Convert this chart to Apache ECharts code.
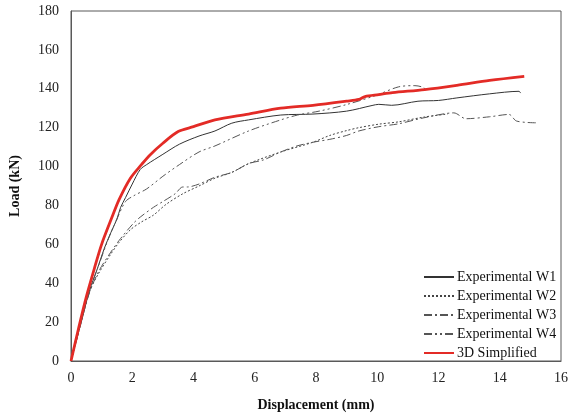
<!DOCTYPE html>
<html>
<head>
<meta charset="utf-8">
<script src="https://cdn.jsdelivr.net/npm/echarts@6/dist/echarts.min.js"></script>
<style>html,body{margin:0;padding:0;background:#fff;}#c{width:571px;height:417px;}</style>
</head>
<body>
<div id="c"></div>
<script>
// Tick labels
const xTicks = [0, 2, 4, 6, 8, 10, 12, 14, 16];
const yTicks = [0, 20, 40, 60, 80, 100, 120, 140, 160, 180];

// Series names
const seriesNames = ['Experimental W1', 'Experimental W2', 'Experimental W3', 'Experimental W4', '3D Simplified'];

// [displacement (mm), load (kN)]
const expW1 = [[0,0],[0.3,18],[0.6,36],[0.85,47],[1.09,58],[1.3,66],[1.5,73],[1.62,79],[1.78,84],[2.0,91],[2.26,98.5],[2.47,101],[3.0,106.3],[3.54,111.5],[4.18,115.7],[4.7,118.3],[5.25,122.3],[5.8,124],[6.85,126.5],[7.9,127],[9.0,128.5],[9.83,131.4],[10.05,132],[10.47,131.5],[11.33,133.6],[12.0,134],[12.6,135.3],[13.67,137.4],[14.63,138.7],[14.68,137.8]];
const expW2 = [[0,0],[0.3,18],[0.61,35.8],[0.9,45],[1.3,55],[1.57,61],[1.94,67.5],[2.3,71.5],[2.69,75],[3.1,80.5],[3.65,86],[4.18,90],[4.7,94],[5.25,97],[5.8,101.5],[6.85,107.5],[7.9,112.5],[8.45,116],[9.0,118.5],[9.4,120],[10.05,121.8],[10.7,123],[11.54,125.5],[12.3,127]];
const expW3 = [[0,0],[0.3,18],[0.6,35],[0.9,46],[1.3,56],[1.62,63],[2.05,71],[2.26,74],[2.69,79],[3.0,82],[3.4,86],[3.65,89.5],[3.8,89.5],[4.18,91],[4.7,94.5],[5.25,97],[5.8,101.5],[6.3,103.5],[6.85,107.5],[7.38,110.6],[7.9,112.5],[8.45,114],[9.0,116],[9.4,118.3],[10.05,120.5],[10.7,122],[11.5,125],[12.5,127.6],[12.9,124.6],[13.67,125.6],[14.3,126.8],[14.55,123.4],[15.2,122.5]];
const expW4 = [[0,0],[0.3,18],[0.6,36],[0.9,49],[1.2,62],[1.5,73],[1.78,82],[2.05,85],[2.47,88.5],[3.0,95],[3.54,101],[4.18,107.5],[4.7,110.6],[5.8,118.3],[6.85,124],[7.4,126.5],[8.1,128.5],[9.0,131.9],[9.94,136.5],[10.7,141],[11.23,141.6],[11.45,141],[11.6,139.6]];
const sim3D = [[0,0],[0.25,17],[0.5,33],[0.77,48],[1.0,60],[1.34,74],[1.57,83],[1.94,94],[2.3,101],[2.58,106],[3.0,112],[3.5,118],[4.0,120.5],[4.7,124],[5.8,127],[6.85,130],[7.9,131.5],[9.0,133.6],[9.4,134.5],[9.6,136],[10.05,137],[10.5,138],[11.55,139.6],[12.6,141.8],[13.67,144.3],[14.8,146.4]];

const serif = 'Liberation Serif';
const chart = echarts.init(document.getElementById('c'), null, {renderer: 'canvas'});

function lineSeries(name, data, color, width, type) {
  return {
    name: name, type: 'line', data: data, showSymbol: false, symbol: 'none',
    smooth: 0.3, animation: false,
    lineStyle: {color: color, width: width, type: type},
    itemStyle: {color: color}
  };
}

chart.setOption({
  animation: false,
  grid: {left: 66, right: 5, top: 11, bottom: 54, show: true, borderColor: '#595959', borderWidth: 1},
  xAxis: {
    type: 'value', min: xTicks[0], max: xTicks[xTicks.length - 1], interval: 2,
    axisLine: {show: true, lineStyle: {color: '#595959', width: 1}},
    axisTick: {show: false}, splitLine: {show: false},
    axisLabel: {fontFamily: serif, fontSize: 14, color: '#222', margin: 10},
    name: 'Displacement (mm)', nameLocation: 'middle', nameGap: 37,
    nameTextStyle: {fontFamily: serif, fontSize: 14, fontWeight: 'bold', color: '#111'}
  },
  yAxis: {
    type: 'value', min: yTicks[0], max: yTicks[yTicks.length - 1], interval: 20,
    axisLine: {show: true, lineStyle: {color: '#595959', width: 1}},
    axisTick: {show: false}, splitLine: {show: false},
    axisLabel: {fontFamily: serif, fontSize: 14, color: '#222', margin: 12},
    name: 'Load (kN)', nameLocation: 'middle', nameGap: 49, nameRotate: 90,
    nameTextStyle: {fontFamily: serif, fontSize: 14, fontWeight: 'bold', color: '#111'}
  },
  legend: {
    orient: 'vertical', left: 423, top: 270,
    itemWidth: 30, itemHeight: 14, itemGap: 5,
    data: seriesNames,
    itemStyle: {opacity: 0},
    textStyle: {fontFamily: serif, fontSize: 14, color: '#111', padding: [0,0,0,-2]},
    padding: 0
  },
  series: [
    lineSeries(seriesNames[0], expW1, '#333333', 1, 'solid'),
    lineSeries(seriesNames[1], expW2, '#444444', 1, [2, 2]),
    lineSeries(seriesNames[2], expW3, '#555555', 1, [8, 3, 2, 3]),
    lineSeries(seriesNames[3], expW4, '#555555', 1, [8, 3, 2, 3, 2, 3]),
    lineSeries(seriesNames[4], sim3D, '#e32b26', 2.8, 'solid')
  ]
});
</script>
</body>
</html>
